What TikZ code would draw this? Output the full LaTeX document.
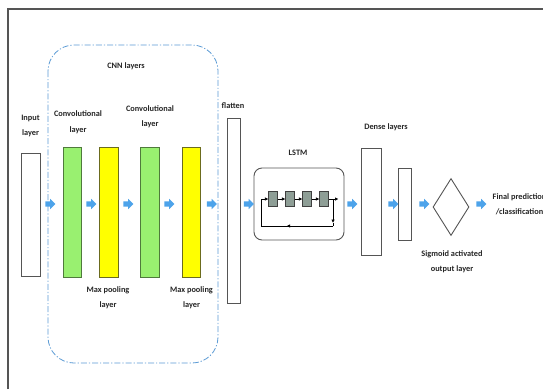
\documentclass[tikz,border=0pt]{standalone}
\usepackage{fontspec}
\setmainfont{Carlito}
\usetikzlibrary{shapes.geometric,shapes.arrows,arrows.meta,decorations.markings}

\definecolor{cnnblue}{HTML}{5B9BD5}
\definecolor{flowblue}{HTML}{4DA3EA}
\definecolor{convgreen}{HTML}{99F070}
\definecolor{convedge}{HTML}{4F7A3C}
\definecolor{poolyellow}{HTML}{FFFF00}
\definecolor{pooledge}{HTML}{6B6B1E}
\definecolor{cellgray}{HTML}{8E9E96}
\definecolor{edgegray}{HTML}{555555}

\tikzstyle{layer} = [draw=edgegray, line width=0.9pt, fill=white, inner sep=0pt]
\tikzstyle{conv} = [layer, draw=convedge, fill=convgreen, minimum width=18.5pt, minimum height=130pt]
\tikzstyle{pool} = [layer, draw=pooledge, fill=poolyellow, minimum width=18.5pt, minimum height=130pt]
\tikzstyle{flow} = [single arrow, fill=flowblue, inner sep=2.5pt, single arrow head extend=2.5pt, minimum height=10pt]
\tikzstyle{lbl} = [align=center, inner sep=0pt, text=black!85, font=\bfseries\fontsize{8.3}{15.5}\selectfont]
\tikzstyle{cell} = [draw=black!75, line width=0.6pt, fill=cellgray, minimum width=8.5pt, minimum height=15pt, inner sep=0pt]
\tikzstyle{link} = [-{Latex[length=3.5pt,width=3.5pt]}, line width=0.6pt]
\tikzstyle{midlink} = [line width=0.6pt, decoration={markings, mark=at position 0.47 with {\arrow{Latex[length=3.5pt,width=3.5pt]}}}, postaction={decorate}]

\begin{document}
\begin{tikzpicture}[x=1pt, y=-1pt]
\useasboundingbox (0,0) rectangle (543,389);
\fill[white] (0,0) rectangle (543,389);

% open frame
\draw[edgegray, line width=1.2pt] (8,389) -- (8,9) -- (543,9);

% CNN block
\draw[cnnblue, line width=0.8pt, dash pattern=on 6pt off 2pt on 1.2pt off 2pt, rounded corners=26pt] (48,45) rectangle (218,363);
\node[lbl] (lCnn) at (126,66) {CNN layers};

% layers
\node[layer, minimum width=19pt, minimum height=123pt] (inp) at (30.5,214.5) {};
\node[conv] (conv1) at (72.3,212) {};
\node[pool] (pool1) at (109,212) {};
\node[conv] (conv2) at (150,212) {};
\node[pool] (pool2) at (191.5,212) {};
\node[layer, minimum width=13pt, minimum height=185pt] (flat) at (233.5,210.5) {};
\node[layer, minimum width=90pt, minimum height=72pt, rounded corners=8pt] (lstm) at (299,204) {};
\node[layer, minimum width=20pt, minimum height=107pt] (dense1) at (371,201.5) {};
\node[layer, minimum width=13pt, minimum height=72pt] (dense2) at (404.5,204) {};
\node[layer, diamond, minimum width=36pt, minimum height=57pt] (sig) at (451,207) {};

% labels
\node[lbl] (lInp) at (30.5,126) {Input\\layer};
\node[lbl] (lConv1) at (78,122) {Convolutional\\layer};
\node[lbl] (lConv2) at (150,116.5) {Convolutional\\layer};
\node[lbl] (lPool1) at (108,297.5) {Max pooling\\layer};
\node[lbl] (lPool2) at (191.5,297.5) {Max pooling\\layer};
\node[lbl] (lFlat) at (233,106) {flatten};
\node[lbl] (lLstm) at (298,153) {LSTM};
\node[lbl] (lDense) at (386,127) {Dense layers};
\node[lbl] (lSig) at (452,261.5) {Sigmoid activated\\output layer};
\node[lbl] (lFinal) at (519.5,204.5) {Final prediction\\/classification};

% flow arrows
\foreach \x [count=\i] in {49,90,127,168,210.5,247.5,351,392,423,480}
    \node[flow] (a\i) at (\x,204) {};

% LSTM cells
\foreach \x [count=\i] in {273,290,307,324}
    \node[cell] (c\i) at (\x,199) {};
\coordinate (cin) at (261.5,199);
\coordinate (cout) at (338.5,199);
\coordinate (fbtop) at (333,199);
\coordinate (fbdown) at (333,223);
\coordinate (fbright) at (333,226);
\coordinate (fbleft) at (261.5,226);
\draw[link] (cin) -- (c1);
\draw[link] (c1) -- (c2);
\draw[link] (c2) -- (c3);
\draw[link] (c3) -- (c4);
\draw[link] (c4) -- (cout);
\draw[link] (fbtop) -- (fbdown);
\draw[midlink] (fbright) -- (fbleft) -- (cin);
\draw[line width=0.6pt] (fbdown) -- (fbright);
\end{tikzpicture}
\end{document}
